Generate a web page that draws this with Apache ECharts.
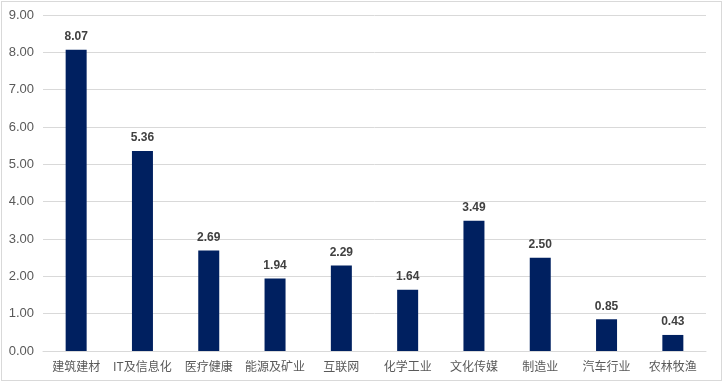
<!DOCTYPE html>
<html><head><meta charset="utf-8">
<script src="https://cdn.jsdelivr.net/npm/echarts@6/dist/echarts.min.js"></script>
<style>html,body{margin:0;padding:0;background:#fff}#c{position:absolute;left:1px;top:1px;width:721px;height:380px;border:1px solid #d9d9d9;box-sizing:border-box}</style>
</head><body><div id="c"></div>
<script>
const categories = ['建筑建材','IT及信息化','医疗健康','能源及矿业','互联网','化学工业','文化传媒','制造业','汽车行业','农林牧渔'];
const values = [8.07,5.36,2.69,1.94,2.29,1.64,3.49,2.50,0.85,0.43];
const chart = echarts.init(document.getElementById('c'));
chart.setOption({
  animation:false,
  grid:{left:41,right:15,top:13,bottom:29},
  xAxis:{type:'category',data:categories,axisTick:{show:false},
    axisLine:{lineStyle:{color:'#d9d9d9'}},
    axisLabel:{interval:0,color:'#595959',fontSize:12,margin:9,fontFamily:'Noto Sans CJK SC'}},
  yAxis:{type:'value',min:0,max:9,interval:1,
    axisLabel:{color:'#595959',fontSize:13,margin:9,fontFamily:'Liberation Sans',formatter:v=>v.toFixed(2)},
    splitLine:{lineStyle:{color:'#d9d9d9'}},axisLine:{show:false},axisTick:{show:false}},
  series:[{type:'bar',data:values,barWidth:21,itemStyle:{color:'#002060'},
    label:{show:true,position:'top',distance:7,color:'#404040',fontWeight:'bold',fontSize:12,fontFamily:'Liberation Sans',formatter:p=>p.value.toFixed(2)}}]
});
</script></body></html>
